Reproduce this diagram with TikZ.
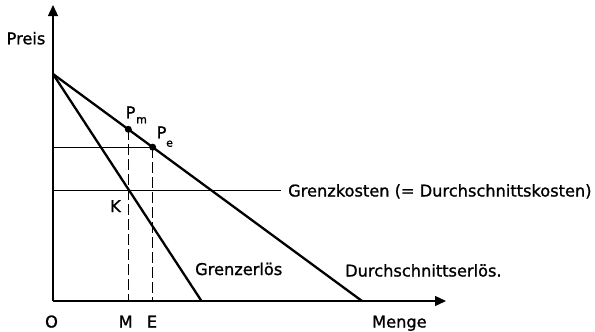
\documentclass[tikz,border=0pt]{standalone}
\usepackage{fontspec}
\setmainfont[FakeBold=1.2]{DejaVu Sans}
\usetikzlibrary{arrows.meta}
\begin{document}
\begin{tikzpicture}[x=1pt,y=-1pt,
  axis/.style={line width=1.3pt,-{Triangle[length=11pt,width=10pt]}},
  curve/.style={line width=2.3pt},
  thinline/.style={line width=1.1pt},
  guide/.style={line width=1.1pt,dash pattern=on 11pt off 4pt},
  dot/.style={circle,fill,inner sep=0pt,minimum size=7pt},
  lbl/.style={font=\fontsize{16.2}{18}\selectfont,inner sep=0pt},
  sub/.style={font=\fontsize{11}{12}\selectfont,inner sep=0pt}]
\useasboundingbox (0,0) rectangle (595,332);
% axes
\coordinate (O) at (53,301);
\coordinate (ytop) at (53,5);
\coordinate (xend) at (446,301);
\draw[axis] (O) -- (ytop);
\draw[axis] (O) -- (xend);
% key points
\coordinate (A) at (53,74);
\coordinate (D) at (362,301);
\coordinate (R) at (201.5,301);
\coordinate (M) at (128.3,301);
\coordinate (E) at (152.7,301);
\coordinate (h1) at (53,147.2);
\coordinate (h2a) at (53,190.5);
\coordinate (h2b) at (281,190.5);
% horizontal and dashed guides
\draw[thinline] (h2a) -- (h2b);
\node[dot] (pm) at (128.3,129.3) {};
\node[dot] (pe) at (152.7,147.2) {};
\draw[thinline] (h1) -- (pe.center);
\draw[guide] (pm.center) -- (M);
\draw[guide] (pe.center) -- (E);
% curves
\draw[curve] (A) -- (D);
\draw[curve] (A) -- (R);
% labels
\node[lbl,anchor=base] (preis) at (26,44.3) {Preis};
\node[lbl,anchor=base] (lo) at (51.5,327.5) {O};
\node[lbl,anchor=base] (lm) at (125.7,327.5) {M};
\node[lbl,anchor=base] (le) at (152,327.5) {E};
\node[lbl,anchor=base west] (menge) at (372,327.5) {Menge};
\node[lbl,anchor=base west] (k) at (110,212) {K};
\node[lbl,anchor=base west] (pmP) at (125.5,118.3) {P};
\node[sub,anchor=base west] (pmm) at (136,123.3) {m};
\node[lbl,anchor=base west] (peP) at (156.5,138.3) {P};
\node[sub,anchor=base west] (pee) at (166,146.7) {e};
\node[lbl,anchor=base west] (gk) at (288,196.5) {Grenzkosten (= Durchschnittskosten)};
\node[lbl,anchor=base west] (ge) at (195,275) {Grenzerlös};
\node[lbl,anchor=base west] (de) at (345,276.5) {Durchschnittserlös.};
\end{tikzpicture}
\end{document}
